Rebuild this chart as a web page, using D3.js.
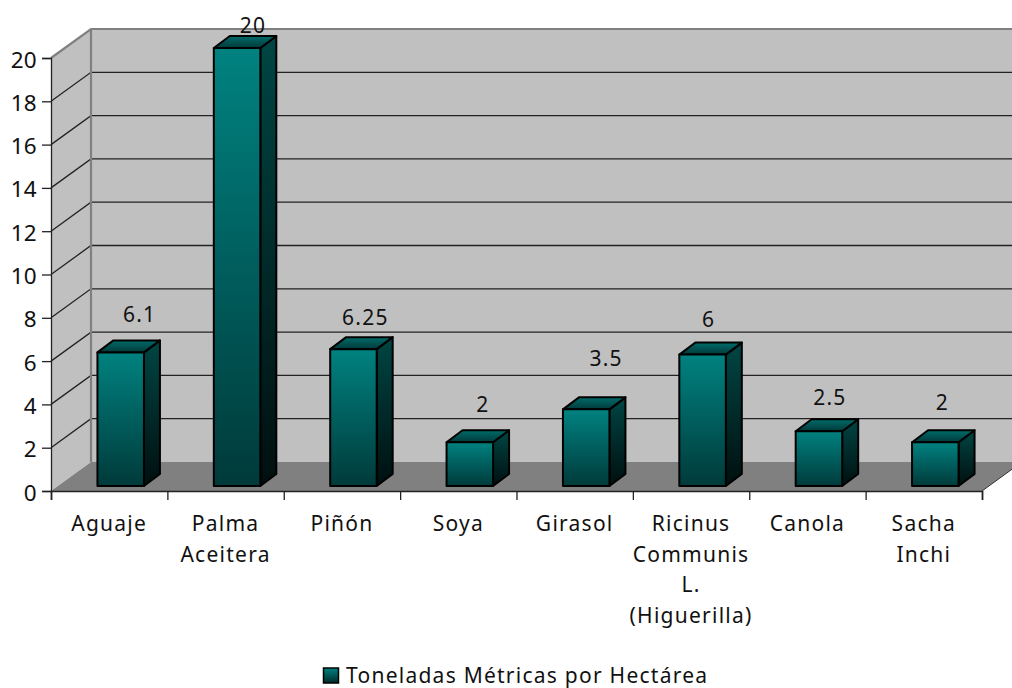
<!DOCTYPE html>
<html><head><meta charset="utf-8">
<script src="https://cdn.jsdelivr.net/npm/d3@7"></script>
<style>html,body{margin:0;background:#fff}text{font-family:"Noto Sans",sans-serif;fill:#111}</style>
</head><body><svg id="c" width="1012" height="688"></svg>
<script>
const categories=[["Aguaje"],["Palma","Aceitera"],["Piñón"],["Soya"],["Girasol"],["Ricinus","Communis","L.","(Higuerilla)"],["Canola"],["Sacha","Inchi"]];
const values=[6.1,20,6.25,2,3.5,6,2.5,2];
const valueLabels=["6.1","20","6.25","2","3.5","6","2.5","2"];
const yTicks=[0,2,4,6,8,10,12,14,16,18,20];
const seriesName="Toneladas Métricas por Hectárea";
const labelDx=[19,16,12,13,20,6,11,7];
const labelDy=[30,15,24,30,43,28,26,32];

const svg=d3.select("#c");
const x0=51,x1=982,front0=491,front20=58,depthX=40,depthY=-29;
const barDX=16,barDY=-12;
const x=d3.scaleBand().domain(d3.range(categories.length)).range([x0,x1]);
const y=d3.scaleLinear().domain([0,20]).range([front0,front20]);
const yBar=d3.scaleLinear().domain([0,20]).range([486,48]);
const barW=46.5,barShift=11.5;
const defs=svg.append("defs");
function grad(id,c0,c1){const g=defs.append("linearGradient").attr("id",id).attr("x1",0).attr("y1",0).attr("x2",0).attr("y2",1);
 g.append("stop").attr("offset",0).attr("stop-color",c0);g.append("stop").attr("offset",1).attr("stop-color",c1);}
grad("gf","#008280","#003a3a");grad("gs","#004644","#000f0f");grad("gt","#006c6a","#003a3a");grad("gl","#008280","#002a2a");
const pts=a=>a.map(p=>p.join(",")).join(" ");
// walls
const wall="#c0c0c0",edge="#808080";
svg.append("polygon").attr("points",pts([[x0+depthX,y(20)+depthY],[x1+depthX,y(20)+depthY],[x1+depthX,y(0)+depthY],[x0+depthX,y(0)+depthY]])).attr("fill",wall);
svg.append("polygon").attr("points",pts([[x0,y(0)],[x0,y(20)],[x0+depthX,y(20)+depthY],[x0+depthX,y(0)+depthY]])).attr("fill",wall);
svg.append("polygon").attr("points",pts([[x0,y(0)],[x1,y(0)],[x1+depthX,y(0)+depthY],[x0+depthX,y(0)+depthY]])).attr("fill",edge);
// grid
yTicks.slice(1,-1).forEach(t=>{
 svg.append("polyline").attr("fill","none").attr("stroke","#222").attr("stroke-width",1.3)
  .attr("points",pts([[x0,y(t)],[x0+depthX,y(t)+depthY],[x1+depthX,y(t)+depthY]]));
});
// wall edges
svg.append("polyline").attr("fill","none").attr("stroke",edge).attr("stroke-width",2.2)
 .attr("points",pts([[x0,y(20)],[x0+depthX,y(20)+depthY],[x1+depthX,y(20)+depthY]]));
svg.append("line").attr("x1",x0+depthX).attr("x2",x0+depthX).attr("y1",y(20)+depthY).attr("y2",y(0)+depthY).attr("stroke",edge).attr("stroke-width",2.2);
svg.append("line").attr("x1",x1).attr("x2",x1+depthX).attr("y1",y(0)).attr("y2",y(0)+depthY).attr("stroke","#333").attr("stroke-width",1);
// axes
const ay=svg.append("g").attr("transform",`translate(${x0},0)`).call(d3.axisLeft(y).tickValues(yTicks).tickSize(9).tickPadding(5));
ay.select(".domain").attr("stroke","#222").attr("stroke-width",1.3);
ay.selectAll("line").attr("stroke","#222").attr("stroke-width",1.3);
ay.selectAll("text").attr("font-size",22.5).attr("font-family",'"Noto Sans",sans-serif').attr("fill","#111").attr("dy","0.4em").attr("letter-spacing",0.3);
const edges=d3.range(categories.length+1).map(i=>x0+i*x.step());
const xEdge=d3.scaleLinear().domain([x0,x1]).range([x0,x1]);
const ax=svg.append("g").attr("transform",`translate(0,${front0})`).call(d3.axisBottom(xEdge).tickValues(edges).tickSize(9).tickFormat(""));
ax.select(".domain").attr("stroke","#222").attr("stroke-width",1.6);
ax.selectAll("line").attr("stroke","#222").attr("stroke-width",1.3);
// bars
const bars=svg.append("g").selectAll("g").data(values).join("g");
const bl=i=>x(i)+x.bandwidth()/2+barShift-barW/2;
const st={stroke:"#000","stroke-width":2,"stroke-linejoin":"round"};
function deco(s){Object.entries(st).forEach(([k,v])=>s.attr(k,v));return s;}
deco(bars.append("polygon").attr("fill","url(#gs)").attr("points",(d,i)=>pts([[bl(i)+barW,yBar(d)],[bl(i)+barW+barDX,yBar(d)+barDY],[bl(i)+barW+barDX,yBar(0)+barDY],[bl(i)+barW,yBar(0)]])));
deco(bars.append("polygon").attr("fill","url(#gt)").attr("points",(d,i)=>pts([[bl(i),yBar(d)],[bl(i)+barDX,yBar(d)+barDY],[bl(i)+barW+barDX,yBar(d)+barDY],[bl(i)+barW,yBar(d)]])));
deco(bars.append("rect").attr("fill","url(#gf)").attr("x",(d,i)=>bl(i)).attr("y",d=>yBar(d)).attr("width",barW).attr("height",d=>yBar(0)-yBar(d)));
// value labels
svg.append("g").selectAll("text").data(values).join("text")
 .attr("text-anchor","middle").attr("font-size",21).attr("letter-spacing",1.25)
 .attr("x",(d,i)=>bl(i)+barW/2+labelDx[i]).attr("y",(d,i)=>yBar(d)-labelDy[i]).text((d,i)=>valueLabels[i]);
// category labels
svg.append("g").selectAll("text").data(categories).join("text")
 .attr("text-anchor","middle").attr("font-size",21).attr("letter-spacing",1.25)
 .attr("transform",(d,i)=>`translate(${x(i)+x.bandwidth()/2},531)`)
 .selectAll("tspan").data(d=>d).join("tspan").attr("x",0).attr("dy",(d,i)=>i?30.7:0).text(d=>d);
// legend
svg.append("rect").attr("x",323.5).attr("y",668).attr("width",15).attr("height",15).attr("fill","url(#gl)").attr("stroke","#000").attr("stroke-width",1.5);
svg.append("text").attr("x",346).attr("y",683).attr("font-size",21).attr("letter-spacing",1.25).text(seriesName);
</script></body></html>
